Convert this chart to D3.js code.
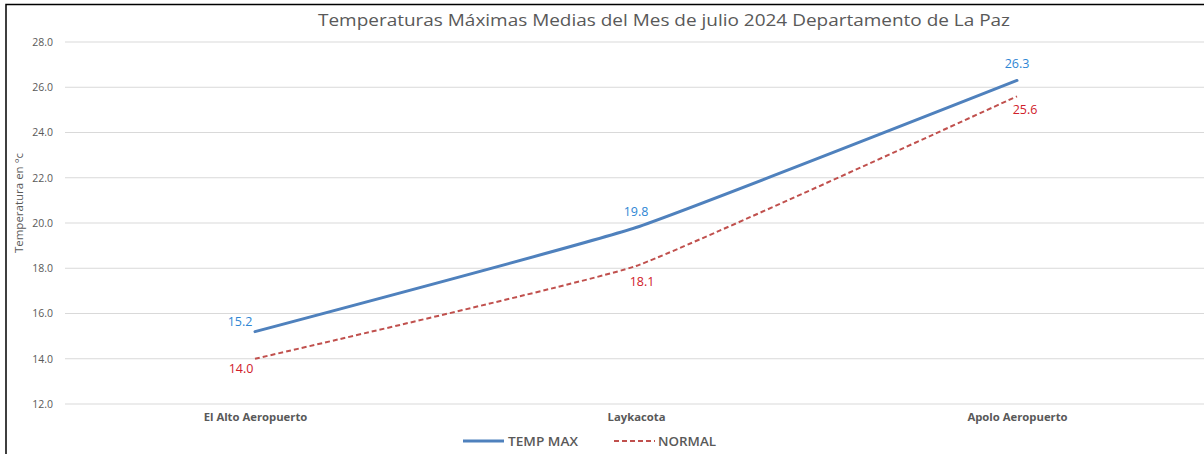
<!DOCTYPE html>
<html><head><meta charset="utf-8">
<script src="https://cdn.jsdelivr.net/npm/d3@7"></script>
<style>body{margin:0;background:#fff}svg{display:block}</style>
</head><body>
<svg id="c" width="1204" height="454"></svg>
<script>
const categories = ["El Alto Aeropuerto", "Laykacota", "Apolo Aeropuerto"];
const tempMax = [15.2, 19.8, 26.3];
const normal = [14.0, 18.1, 25.6];
const yTicks = [12, 14, 16, 18, 20, 22, 24, 26, 28];
const seriesNames = ["TEMP MAX", "NORMAL"];
const title = "Temperaturas  Máximas Medias del Mes de julio 2024 Departamento de La Paz";
const yLabel = "Temperatura en °c";

// label layout offsets (pixels)
const maxLabelOffset = [[-15, -6], [0, -12], [0, -12]];
const normLabelOffset = [[-14, 14], [6, 20], [8, 18]];

const svg = d3.select("#c");
const font = "'Open Sans', 'Liberation Sans', sans-serif";
svg.append("rect").attr("width",1204).attr("height",454).attr("fill","#fff");
svg.append("rect").attr("x",6).attr("y",4.5).attr("width",1300).attr("height",500)
  .attr("fill","none").attr("stroke","#000").attr("stroke-width",1.5);

const x = d3.scalePoint().domain(categories).range([255, 1017]);
const y = d3.scaleLinear().domain([12, 28]).range([404, 42]);

const yAxis = d3.axisLeft(y).tickValues(yTicks).tickFormat(d3.format(".1f")).tickSize(0).tickPadding(12);
const ga = svg.append("g").attr("transform","translate(65,0)").call(yAxis);
ga.select(".domain").remove();
ga.selectAll("text").attr("fill","#595959").style("font-family",font).style("font-size","10.5px");
svg.append("g").selectAll("line").data(yTicks).join("line")
  .attr("x1",65).attr("x2",1204).attr("y1",d=>y(d)).attr("y2",d=>y(d))
  .attr("stroke","#d9d9d9").attr("stroke-width",1);

const xa = svg.append("g").attr("transform","translate(0,404)")
  .call(d3.axisBottom(x).tickSize(0).tickPadding(9));
xa.select(".domain").remove();
xa.selectAll("text").attr("fill","#595959").style("font-family",font)
  .style("font-size","11.3px").style("font-weight","bold");

svg.append("text").attr("x",664).attr("y",26).attr("text-anchor","middle")
  .attr("fill","#595959").style("font-family",font).style("font-size","16.5px")
  .attr("textLength",692).attr("lengthAdjust","spacingAndGlyphs").text(title);

svg.append("text").attr("transform","translate(23,203) rotate(-90)").attr("text-anchor","middle")
  .attr("fill","#595959").style("font-family",font).style("font-size","11.5px").text(yLabel);

const line = d3.line().x((d,i)=>x(categories[i])).y(d=>y(d)).curve(d3.curveCardinal.tension(0.65));
svg.append("path").attr("d",line(normal)).attr("fill","none").attr("stroke","#C0504D")
  .attr("stroke-width",2).attr("stroke-dasharray","5,3");
svg.append("path").attr("d",line(tempMax)).attr("fill","none").attr("stroke","#4F81BD")
  .attr("stroke-width",3).attr("stroke-linecap","round");

svg.append("g").selectAll("text").data(tempMax).join("text")
  .attr("x",(d,i)=>x(categories[i])+maxLabelOffset[i][0]).attr("y",(d,i)=>y(d)+maxLabelOffset[i][1])
  .attr("text-anchor","middle")
  .attr("fill","#2E86D4").style("font-family",font).style("font-size","12.5px").text(d=>d.toFixed(1));
svg.append("g").selectAll("text").data(normal).join("text")
  .attr("x",(d,i)=>x(categories[i])+normLabelOffset[i][0]).attr("y",(d,i)=>y(d)+normLabelOffset[i][1])
  .attr("text-anchor","middle")
  .attr("fill","#D0202A").style("font-family",font).style("font-size","12.5px").text(d=>d.toFixed(1));

const leg = svg.append("g");
leg.append("line").attr("x1",463).attr("x2",504).attr("y1",441).attr("y2",441)
  .attr("stroke","#4F81BD").attr("stroke-width",3);
leg.append("text").attr("x",508).attr("y",445.5).attr("fill","#595959").style("font-family",font)
  .style("font-size","13px").style("font-weight","600")
  .attr("textLength",70).attr("lengthAdjust","spacingAndGlyphs").text(seriesNames[0]);
leg.append("line").attr("x1",614).attr("x2",655).attr("y1",441).attr("y2",441)
  .attr("stroke","#C0504D").attr("stroke-width",2).attr("stroke-dasharray","5,3");
leg.append("text").attr("x",658).attr("y",445.5).attr("fill","#595959").style("font-family",font)
  .style("font-size","13px").style("font-weight","600")
  .attr("textLength",58).attr("lengthAdjust","spacingAndGlyphs").text(seriesNames[1]);
</script>
</body></html>
